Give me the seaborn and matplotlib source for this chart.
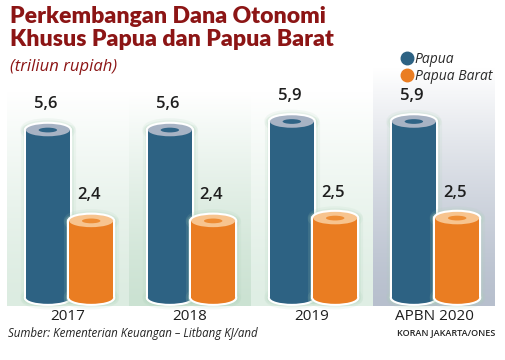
import numpy as np
import pandas as pd
import matplotlib
matplotlib.use("Agg")
import matplotlib.pyplot as plt
import seaborn as sns
from matplotlib.patches import Ellipse, Rectangle
from matplotlib.lines import Line2D
from matplotlib.colors import to_rgb

# data
categories = ["2017", "2018", "2019", "APBN 2020"]
papua = [5.6, 5.6, 5.9, 5.9]
papua_barat = [2.4, 2.4, 2.5, 2.5]
series = ["Papua", "Papua Barat"]

BLUE = "#2d6283"
ORANGE = "#ea7d22"
TITLE_RED = "#8c1515"

df = pd.DataFrame({
    "cat": categories * 2,
    "val": papua + papua_barat,
    "series": [series[0]] * 4 + [series[1]] * 4,
})

sns.set_theme(style="white")
plt.rcParams["font.family"] = ["Open Sans", "DejaVu Sans"]

fig = plt.figure(figsize=(5.06, 3.6), dpi=100)
fig.patch.set_facecolor("white")
ax = fig.add_axes([7 / 506, 1 - 326 / 360, 488 / 506, 286 / 360])

base = -0.3
ymin, ymax = -1.30, 8.77
band_top = -0.60

# panel backgrounds (vertical gradient to white)
panel_cols = ["#dcece1", "#cbe2d2", "#dfeee4", "#b7bfcd"]
band_cols = ["#d9ebdf", "#bcd8c4", "#d9ebdf", "#b3bbca"]
for i, (pc, bc) in enumerate(zip(panel_cols, band_cols)):
    c = np.array(to_rgb(pc))
    t = np.linspace(0, 1, 200)[:, None]
    t = np.clip(t * (1.12 if i == 3 else 1.25), 0, 1) ** 1.3
    grad = (1 - t) * c + t * np.array([1.0, 1.0, 1.0])
    ax.imshow(grad[:, None, :], extent=[i - 0.5, i + 0.5, band_top, ymax],
              origin="lower", aspect="auto", zorder=0, interpolation="bilinear")
    ax.add_patch(Rectangle((i - 0.5, ymin), 1, band_top - ymin, color=bc, zorder=1, lw=0))
    ax.text(i, -0.95, categories[i], ha="center", va="center", fontsize=11,
            color="#1e1e1e", zorder=5)

sns.barplot(data=df, x="cat", y="val", hue="series", palette=[BLUE, ORANGE],
            width=0.72, ax=ax, legend=False, zorder=3)
# seaborn's flat bars are replaced by cylinders built from the same values
for p in list(ax.patches):
    p.set_visible(False)

ew = 0.36      # ellipse width (data)
eh = 0.44      # ellipse height (data)
ring = {BLUE: ("#a7b3c4", "#2f6486"), ORANGE: ("#f7c48f", "#ee8c33")}

z = 3
for si, vals in enumerate([papua, papua_barat]):
    col = [BLUE, ORANGE][si]
    for i, v in enumerate(vals):
        cx = i - 0.165 if si == 0 else i + 0.19
        x0 = cx - ew / 2
        # soft glow + white silhouette
        for lw, ec, a in [(8, "#a9d0b6", 0.12), (5, "#b5d8c0", 0.2), (3.0, "white", 1.0)]:
            ax.add_patch(Rectangle((x0, base), ew, v - base, fc=ec, ec=ec, lw=lw,
                                   alpha=a, zorder=z, joinstyle="round"))
            ax.add_patch(Ellipse((cx, base), ew, eh, fc=ec, ec=ec, lw=lw, alpha=a, zorder=z))
            ax.add_patch(Ellipse((cx, v), ew, eh, fc=ec, ec=ec, lw=lw, alpha=a, zorder=z))
        z += 1
        ax.add_patch(Rectangle((x0, base), ew, v - base, fc=col, lw=0, zorder=z))
        ax.add_patch(Ellipse((cx, base), ew, eh, fc=col, lw=0, zorder=z))
        outer, inner = ring[col]
        ax.add_patch(Ellipse((cx, v), ew, eh, fc=outer, lw=0, zorder=z + 1))
        ax.add_patch(Ellipse((cx, v), ew * 0.42, eh * 0.38, fc=inner, lw=0, zorder=z + 2))
        ax.text(cx - 0.02, v + 0.9, f"{v:.1f}".replace(".", ","), ha="center", va="center",
                fontsize=12, color="#1e1e1e", fontweight="semibold", zorder=z + 3)
        z += 4

ax.set_xlim(-0.5, 3.5)
ax.set_ylim(ymin, ymax)
ax.set_xlabel("")
ax.set_ylabel("")
ax.set_xticks([])
ax.set_yticks([])
for s in ax.spines.values():
    s.set_visible(False)

# titles
fig.text(10 / 506, 1 - 6 / 360, "Perkembangan Dana Otonomi\nKhusus Papua dan Papua Barat",
         ha="left", va="top", fontsize=16.6, fontweight="heavy", color=TITLE_RED,
         linespacing=1.12, family=["Lato", "DejaVu Sans"])
fig.text(10 / 506, 1 - 67 / 360, "(triliun rupiah)", ha="left", va="center",
         fontsize=12, style="italic", color=TITLE_RED)

# legend
handles = [Line2D([], [], marker="o", ls="", color=c, markersize=9) for c in [BLUE, ORANGE]]
leg = fig.legend(handles, series, loc="upper left", bbox_to_anchor=(393 / 506, 1 - 45 / 360),
                 frameon=False, handletextpad=0.05, labelspacing=0.15, borderpad=0,
                 handlelength=1.0, prop={"style": "italic", "size": 10})
for t in leg.get_texts():
    t.set_color("#2a2a2a")

# footer
fig.text(8 / 506, 1 - 333 / 360, "Sumber: Kementerian Keuangan – Litbang KJ/and",
         ha="left", va="center", fontsize=8.3, style="italic", color="#222222")
fig.text(495 / 506, 1 - 333 / 360, "KORAN JAKARTA/ONES", ha="right", va="center",
         fontsize=6.5, color="#222222", fontweight="semibold")

fig.savefig("out.png", dpi=100)
